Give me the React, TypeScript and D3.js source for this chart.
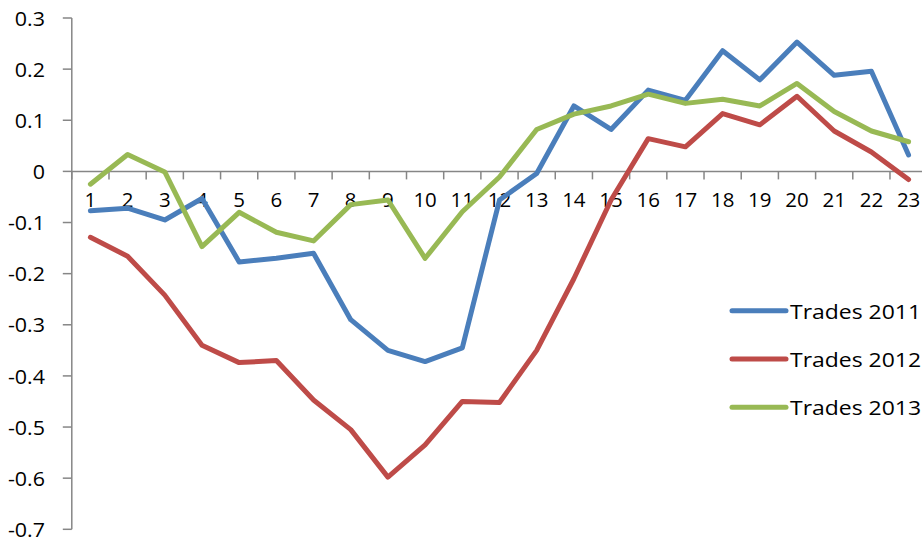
import React from "react";
import * as d3 from "d3";

const categories = d3.range(1, 24).map(String);
const trades2011 = [-0.077, -0.072, -0.095, -0.053, -0.177, -0.170, -0.160, -0.290, -0.350, -0.372, -0.345, -0.056, -0.004, 0.128, 0.082, 0.159, 0.139, 0.236, 0.179, 0.253, 0.188, 0.196, 0.032];
const trades2012 = [-0.129, -0.166, -0.242, -0.340, -0.374, -0.370, -0.447, -0.505, -0.598, -0.535, -0.450, -0.452, -0.350, -0.210, -0.056, 0.064, 0.048, 0.113, 0.091, 0.147, 0.079, 0.038, -0.016];
const trades2013 = [-0.025, 0.033, -0.001, -0.147, -0.080, -0.119, -0.136, -0.065, -0.056, -0.170, -0.079, -0.011, 0.082, 0.112, 0.128, 0.151, 0.133, 0.141, 0.128, 0.172, 0.117, 0.079, 0.058];
const seriesNames = ["Trades 2011", "Trades 2012", "Trades 2013"];
const seriesColors = ["#4A7EBB", "#BE4B48", "#98B954"];
const yTicks = [0.3, 0.2, 0.1, 0, -0.1, -0.2, -0.3, -0.4, -0.5, -0.6, -0.7];
const yTickLabels = ["0.3", "0.2", "0.1", "0", "-0.1", "-0.2", "-0.3", "-0.4", "-0.5", "-0.6", "-0.7"];

const W = 922;
const H = 542;
const FONT = "'Open Sans', 'Noto Sans', sans-serif";

export default function App() {
  const series = [trades2011, trades2012, trades2013];
  const x = d3.scaleBand().domain(categories).range([71.8, 71.8 + 23 * 37.19]);
  const y = d3.scaleLinear().domain([-0.7, 0.3]).range([529.3, 18]);
  const cx = (c: string) => (x(c) as number) + x.bandwidth() / 2;
  const line = d3
    .line<number>()
    .x((_, i) => cx(categories[i]))
    .y((d) => y(d));
  const axisColor = "#868686";
  const x0 = x.range()[0];
  const tickXs = d3.range(0, 24).map((i) => x0 + i * x.step());

  return (
    <svg width={W} height={H} style={{ position: "absolute", left: 0, top: 0, background: "#fff" }}>
      <rect width={W} height={H} fill="#fff" />
      {/* y axis */}
      <line x1={x0} x2={x0} y1={y(0.3)} y2={y(-0.7)} stroke={axisColor} strokeWidth={1.5} />
      {yTicks.map((t, i) => (
        <g key={t}>
          <line x1={x0 - 9} x2={x0} y1={y(t)} y2={y(t)} stroke={axisColor} strokeWidth={1.5} />
          <text
            transform={`translate(45,${y(t)}) scale(1.1,1)`}
            textAnchor="end"
            dominantBaseline="central"
            fontFamily={FONT}
            fontSize={19.5}
            fill="#000"
          >
            {yTickLabels[i]}
          </text>
        </g>
      ))}
      {/* x axis */}
      <line x1={x0} x2={W} y1={y(0)} y2={y(0)} stroke={axisColor} strokeWidth={1.5} />
      {tickXs.map((tx, i) => (
        <line key={i} x1={tx} x2={tx} y1={y(0)} y2={y(0) + 8} stroke={axisColor} strokeWidth={1.5} />
      ))}
      {categories.map((c) => (
        <text
          key={c}
          transform={`translate(${cx(c)},${y(0) + 36}) scale(1.05,1)`}
          textAnchor="middle"
          fontFamily={FONT}
          fontSize={19.5}
          fill="#000"
        >
          {c}
        </text>
      ))}
      {/* lines */}
      {series.map((s, k) => (
        <path
          key={k}
          d={line(s) as string}
          fill="none"
          stroke={seriesColors[k]}
          strokeWidth={5}
          strokeLinejoin="round"
          strokeLinecap="round"
        />
      ))}
      {/* legend */}
      {seriesNames.map((n, k) => {
        const ly = 310.7 + k * 48.3;
        return (
          <g key={n}>
            <line x1={732} x2={786} y1={ly} y2={ly} stroke={seriesColors[k]} strokeWidth={5} strokeLinecap="round" />
            <text
              transform={`translate(790,${ly}) scale(1.12,1)`}
              dominantBaseline="central"
              fontFamily={FONT}
              fontSize={20.5}
              fill="#000"
            >
              {n}
            </text>
          </g>
        );
      })}
    </svg>
  );
}
